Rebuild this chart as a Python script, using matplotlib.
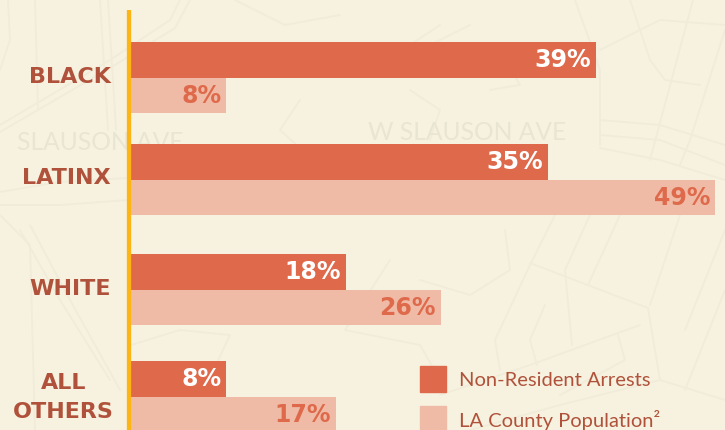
import matplotlib
matplotlib.use("Agg")
import matplotlib.pyplot as plt
from matplotlib.patches import Rectangle

categories = ["BLACK", "LATINX", "WHITE", "ALL\nOTHERS"]
arrests = [39, 35, 18, 8]
population = [8, 49, 26, 17.2]
arrest_labels = ["39%", "35%", "18%", "8%"]
population_labels = ["8%", "49%", "26%", "17%"]

BG = "#F7F2DF"; DARK = "#DE6A4B"; LIGHT = "#F0BBA6"; TXT = "#B0523B"; AXIS = "#FDB515"; MAP = "#F1ECD9"
W, H = 725, 430
PX = 11.92; X0 = 131
centers = [78, 180, 290, 397]
fig = plt.figure(figsize=(W/100, H/100), dpi=100, facecolor=BG)
ax = fig.add_axes([0, 0, 1, 1])
ax.set_xlim(-X0/PX, (W-X0)/PX); ax.set_ylim(H, 0); ax.axis("off")
sx = lambda x: (x-X0)/PX

map_lines = [
 [(8,0),(10,40),(0,70)], [(35,0),(38,110)], [(100,0),(108,130)],[(108,0),(116,130)],
 [(0,125),(110,60),(170,20),(180,0)], [(0,132),(110,68),(175,28),(190,0)],
 [(0,192),(60,182),(128,178)], [(0,205),(60,205),(128,200)], [(0,215),(30,245),(35,430)],
 [(20,230),(60,300),(110,380)], [(30,225),(70,300),(120,390)],
 [(235,0),(285,25),(340,15)], [(300,100),(280,130),(330,175)],
 [(470,25),(400,60),(410,45),(440,25)], [(410,90),(440,110),(430,140)], [(490,90),(520,85),(505,60)],
 [(575,0),(600,70),(600,145)], [(630,0),(650,60),(665,80),(700,85)], [(600,50),(660,20),(725,25)],
 [(693,0),(650,160)], [(725,30),(690,140),(680,165)], [(600,120),(660,125),(725,145)], [(600,135),(660,140),(725,165)],
 [(600,148),(660,160),(725,180)], [(420,280),(470,295),(510,270),(505,230)],
 [(555,215),(530,265),(495,340),(500,370)], [(530,263),(648,308)], [(648,308),(660,380),(725,400)],
 [(640,325),(530,365),(440,395)], [(590,215),(565,270),(572,345)], [(620,215),(588,285)], [(680,215),(650,305)],
 [(725,230),(685,330)], [(725,290),(685,390)], [(545,305),(530,340),(537,365)], [(660,380),(560,405),(470,430)],
 [(618,335),(625,360),(560,395)], [(131,345),(180,330),(230,335),(190,420)], [(390,260),(345,330),(420,345),(440,380)],
]
for line in map_lines:
    ax.plot([sx(p[0]) for p in line], [p[1] for p in line], color=MAP, lw=1.3, zorder=0, solid_capstyle="round")
street = dict(color="#E9E5D3", fontsize=17.7, ha="center", va="center", family="Lato", zorder=0)
ax.text(sx(467), 133, "W SLAUSON AVE", **street)
ax.text(sx(100), 143, "SLAUSON AVE", **street)

ax.barh([c-18 for c in centers], arrests, height=36, color=DARK, zorder=2)
ax.barh([c+17.5 for c in centers], population, height=35, color=LIGHT, zorder=2)
ax.plot([sx(129), sx(129)], [10, H], color=AXIS, lw=3.1, zorder=3, solid_capstyle="butt")

vfont = dict(family="DejaVu Sans", fontweight="bold", fontsize=17, ha="right", va="center", zorder=4)
for c, a, p, al, pl in zip(centers, arrests, population, arrest_labels, population_labels):
    ax.text(a-0.42, c-18, al, color="white", **vfont)
    ax.text(p-0.42, c+18, pl, color=DARK, **vfont)

label_y = [77, 178, 289, 397.5]
for cat, y in zip(categories, label_y):
    if "\n" in cat:
        ax.text(sx(63.5), y, cat, color=TXT, fontsize=16, fontweight="bold", family="DejaVu Sans", ha="center", va="center", linespacing=1.55, zorder=4)
    else:
        ax.text(sx(111), y, cat, color=TXT, fontsize=16, fontweight="bold", family="DejaVu Sans", ha="right", va="center", zorder=4)

ax.add_patch(Rectangle((sx(420), 366), 26/PX, 26, color=DARK, zorder=4))
ax.add_patch(Rectangle((sx(420), 406), 26/PX, 26, color=LIGHT, zorder=4))
lfont = dict(family="Lato", fontsize=14.5, color=TXT, va="center", ha="left", zorder=4)
ax.text(sx(459), 380, "Non-Resident Arrests", **lfont)
ax.text(sx(459), 420, "LA County Population\u00b2", **lfont)
fig.savefig("out.png", dpi=100, facecolor=BG)
